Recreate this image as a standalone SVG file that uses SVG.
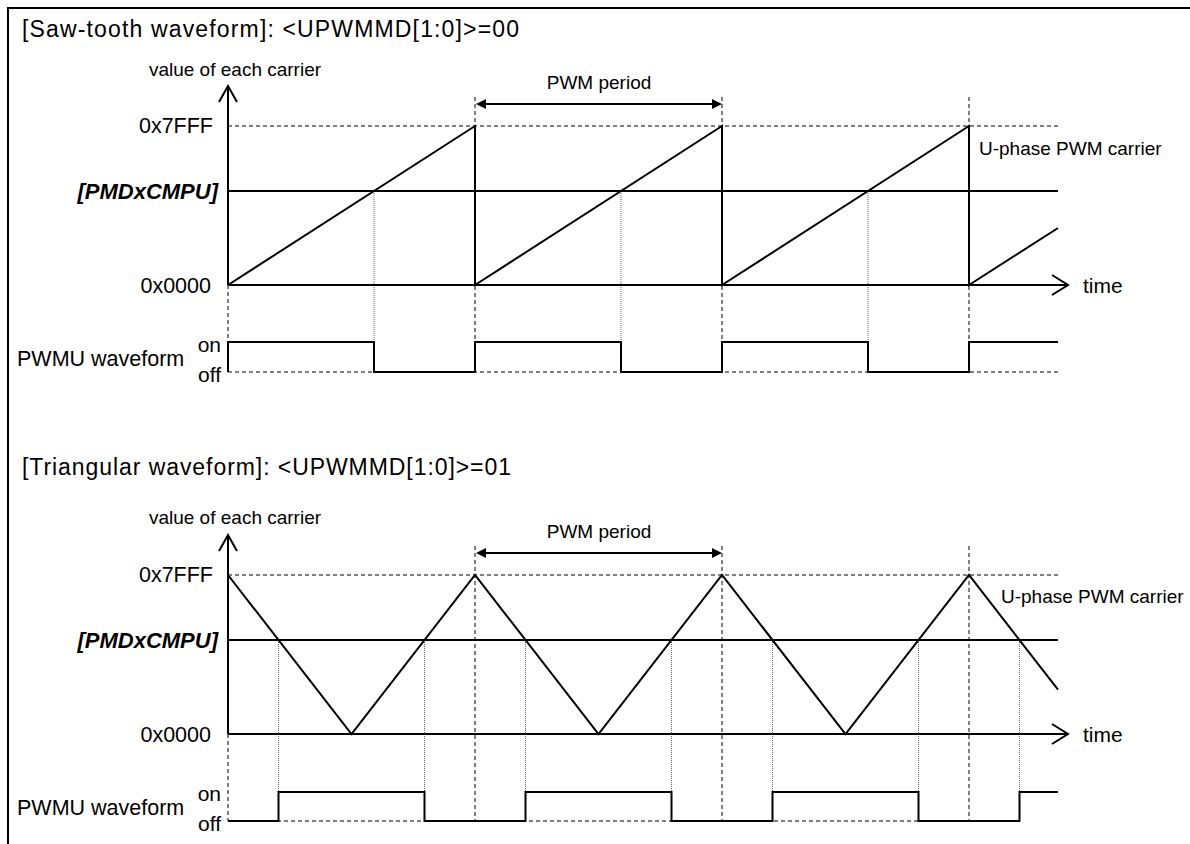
<svg xmlns="http://www.w3.org/2000/svg" width="1190" height="844" viewBox="0 0 1190 844">
<style>
.ln{stroke:#000;stroke-width:2;fill:none}
.ds{stroke:#000;stroke-width:1;stroke-dasharray:4 3;fill:none}
.dt{stroke:#666;stroke-width:1;stroke-dasharray:1 1;fill:none}
.t{font-family:"Liberation Sans",Arial,sans-serif;font-size:20px;fill:#000}
.ttl{font-size:23px}
.sm{font-size:19px}
.val{font-size:21.5px}
.lab{font-size:21px}
.wf{font-size:21.5px}
.bi{font-weight:bold;font-style:italic;font-size:22px}
.e{text-anchor:end}
.m{text-anchor:middle}
</style>
<rect x="0" y="0" width="1190" height="844" fill="#fff"/>
<rect x="8" y="8" width="1200" height="900" fill="none" stroke="#000" stroke-width="2"/>

<g id="sawtooth">
  <text class="t ttl" x="22" y="37" textLength="497">[Saw-tooth waveform]: &lt;UPWMMD[1:0]&gt;=00</text>
  <g id="saw-labels">
    <text class="t sm m" x="235" y="76">value of each carrier</text>
    <text class="t val e" x="213" y="133">0x7FFF</text>
    <text class="t bi e" x="218" y="199">[PMDxCMPU]</text>
    <text class="t val e" x="211" y="293">0x0000</text>
    <text class="t wf" x="17" y="366">PWMU waveform</text>
    <text class="t lab e" x="221" y="352">on</text>
    <text class="t lab e" x="221" y="382">off</text>
    <text class="t sm m" x="599" y="89">PWM period</text>
    <text class="t sm" x="979" y="155">U-phase PWM carrier</text>
    <text class="t lab" x="1083" y="293">time</text>
  </g>
  <g id="saw-connectors">
    <path class="ds" d="M228 126H1058M475 97V372M722 97V372M969 97V372M228 285V342M228 372H1058"/>
    <path class="dt" d="M374 191V342M621 191V342M868 191V342"/>
    <path class="ln" d="M228 86V285M219 102L228 86L237 102"/>
    <path class="ln" d="M228 285H1068M1052 275L1068 285L1052 295"/>
    <path class="ln" d="M228 191H1058"/>
    <path class="ln" d="M228 285L475 126V285L722 126V285L969 126V285L1058 228"/>
    <path class="ln" d="M228 372V342H374V372H475V342H621V372H722V342H868V372H969V342H1058"/>
    <path class="ln" d="M484 104H714"/>
    <path d="M476 104L486 99V109ZM722 104L712 99V109Z" fill="#000"/>
  </g>
</g>

<g id="triangular">
  <text class="t ttl" x="22" y="475" textLength="489">[Triangular waveform]: &lt;UPWMMD[1:0]&gt;=01</text>
  <g id="tri-labels">
    <text class="t sm m" x="235" y="524">value of each carrier</text>
    <text class="t val e" x="213" y="582">0x7FFF</text>
    <text class="t bi e" x="218" y="648">[PMDxCMPU]</text>
    <text class="t val e" x="211" y="742">0x0000</text>
    <text class="t wf" x="17" y="815">PWMU waveform</text>
    <text class="t lab e" x="221" y="801">on</text>
    <text class="t lab e" x="221" y="831">off</text>
    <text class="t sm m" x="599" y="538">PWM period</text>
    <text class="t sm" x="1001" y="603">U-phase PWM carrier</text>
    <text class="t lab" x="1083" y="742">time</text>
  </g>
  <g id="tri-connectors">
    <path class="ds" d="M228 575H1058M475 546V821M722 546V821M969 546V821M228 734V821M228 821H1020"/>
    <path class="dt" d="M278.5 640V792M424.5 640V792M525.5 640V792M671.5 640V792M772.5 640V792M918.5 640V792M1019.5 640V792"/>
    <path class="ln" d="M228 535V734M219 551L228 535L237 551"/>
    <path class="ln" d="M228 734H1068M1052 724L1068 734L1052 744"/>
    <path class="ln" d="M228 640H1058"/>
    <path class="ln" d="M228 575L351.5 734L475 575L598.5 734L722 575L845.5 734L969 575L1058 689.6"/>
    <path class="ln" d="M228 821H278.5V792H424.5V821H525.5V792H671.5V821H772.5V792H918.5V821H1019.5V792H1058"/>
    <path class="ln" d="M484 553H714"/>
    <path d="M476 553L486 548V558ZM722 553L712 548V558Z" fill="#000"/>
  </g>
</g>
</svg>
